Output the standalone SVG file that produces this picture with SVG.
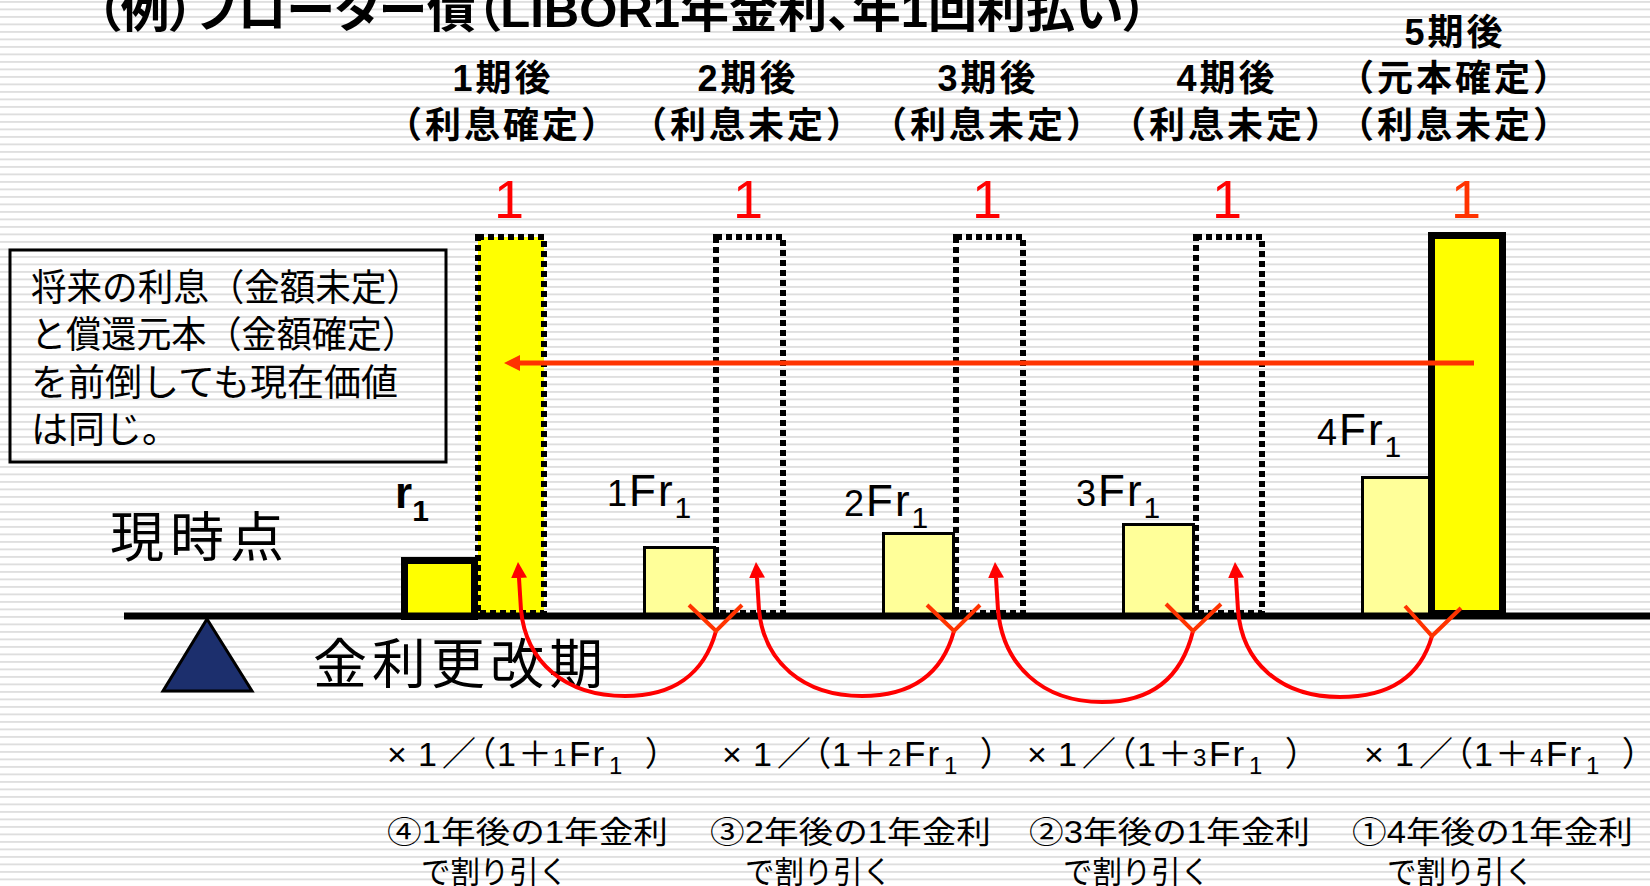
<svg xmlns="http://www.w3.org/2000/svg" width="1650" height="886" viewBox="0 0 1650 886">
<defs>
<pattern id="stripes" patternUnits="userSpaceOnUse" width="16" height="7.5">
<rect x="0" y="0" width="16" height="7.5" fill="#ffffff"/>
<rect x="0" y="1" width="16" height="1.8" fill="#dddddd"/>
</pattern>
<marker id="ahRed" viewBox="0 0 16 16" refX="0" refY="8" markerWidth="16" markerHeight="16" markerUnits="userSpaceOnUse" orient="auto">
<path d="M0,0 L16,8 L0,16 z" fill="#ff0000"/>
</marker>
<marker id="ahOr" viewBox="0 0 16 16" refX="0" refY="8" markerWidth="16" markerHeight="16" markerUnits="userSpaceOnUse" orient="auto">
<path d="M0,0 L16,8 L0,16 z" fill="#ff3300"/>
</marker>
</defs>
<style>
text { font-family: "Liberation Sans", "Noto Sans CJK JP", sans-serif; fill: #000; }
.ttl { font-size: 48px; font-weight: bold; font-feature-settings: "palt"; }
.hd { font-size: 36px; font-weight: bold; text-anchor: middle; letter-spacing: 3px; }
.one { font-size: 54px; fill: #ff0000; text-anchor: middle; }
.box { font-size: 37px; }
.big { font-size: 54px; }
.lbl { font-size: 44px; letter-spacing: 2px; }
.fm { font-size: 34px; font-feature-settings: "palt"; }
.sm { font-size: 24px; }
.fr { font-size: 35px; letter-spacing: 2px; }
.nt { font-size: 31px; }
.dot { fill: none; stroke: #000; stroke-width: 6; stroke-dasharray: 6 4; }
.lite { fill: #ffff99; stroke: #000; stroke-width: 3; }
.arc { fill: none; stroke: #ff0000; stroke-width: 4; marker-end: url(#ahRed); }
.vee { fill: none; stroke: #ff3300; stroke-width: 4; }
</style>
<rect x="0" y="0" width="1650" height="886" fill="url(#stripes)"/>

<g id="title">
<text class="ttl" x="96" y="27" textLength="1052" lengthAdjust="spacingAndGlyphs">（例）フローター債（LIBOR1年金利、年1回利払い）</text>
</g>

<g id="headers">
<text class="hd" x="503" y="91">1期後</text>
<text class="hd" x="503" y="138">（利息確定）</text>
<text class="hd" x="748" y="91">2期後</text>
<text class="hd" x="748" y="138">（利息未定）</text>
<text class="hd" x="988" y="91">3期後</text>
<text class="hd" x="988" y="138">（利息未定）</text>
<text class="hd" x="1227" y="91">4期後</text>
<text class="hd" x="1227" y="138">（利息未定）</text>
<text class="hd" x="1455" y="45">5期後</text>
<text class="hd" x="1455" y="91">（元本確定）</text>
<text class="hd" x="1455" y="138">（利息未定）</text>
</g>

<g id="ones">
<text class="one" x="509" y="218">1</text>
<text class="one" x="748" y="218">1</text>
<text class="one" x="987" y="218">1</text>
<text class="one" x="1227" y="218">1</text>
<text class="one" x="1466" y="218" style="fill:#ff3300">1</text>
</g>

<g id="note">
<rect x="10" y="250" width="436" height="212" fill="none" stroke="#000" stroke-width="3"/>
<text class="box" x="31" y="301" textLength="391" lengthAdjust="spacingAndGlyphs">将来の利息（金額未定）</text>
<text class="box" x="31" y="348" textLength="386" lengthAdjust="spacingAndGlyphs">と償還元本（金額確定）</text>
<text class="box" x="31" y="396">を前倒しても現在価値</text>
<text class="box" x="31" y="443">は同じ。</text>
</g>

<g id="bar-r1">
<rect x="404.5" y="560.5" width="70" height="56" fill="#ffff00" stroke="#000" stroke-width="7"/>
</g>
<g id="bar-f1"><rect class="lite" x="644.5" y="547.5" width="70" height="70"/></g>
<g id="bar-f2"><rect class="lite" x="883.5" y="533.5" width="70" height="84"/></g>
<g id="bar-f3"><rect class="lite" x="1123.5" y="524.5" width="70" height="93"/></g>
<g id="bar-f4"><rect class="lite" x="1362.5" y="477.5" width="68" height="140"/></g>

<g id="bar1"><rect class="dot" x="478" y="237" width="66" height="376" style="fill:#ffff00"/></g>
<g id="bar2"><rect class="dot" x="716" y="237" width="67" height="376"/></g>
<g id="bar3"><rect class="dot" x="956" y="237" width="67" height="376"/></g>
<g id="bar4"><rect class="dot" x="1196" y="237" width="66" height="376"/></g>
<g id="bar5"><rect x="1431.5" y="235.5" width="71" height="378" fill="#ffff00" stroke="#000" stroke-width="7"/></g>

<g id="labels">
<text x="395" y="508" font-size="44" font-weight="bold">r<tspan font-size="30" dy="13">1</tspan></text>
<text class="lbl" x="607" y="506"><tspan font-size="36">1</tspan>Fr<tspan font-size="30" dy="12">1</tspan></text>
<text class="lbl" x="844" y="516"><tspan font-size="36">2</tspan>Fr<tspan font-size="30" dy="12">1</tspan></text>
<text class="lbl" x="1076" y="506"><tspan font-size="36">3</tspan>Fr<tspan font-size="30" dy="12">1</tspan></text>
<text class="lbl" x="1317" y="445"><tspan font-size="36">4</tspan>Fr<tspan font-size="30" dy="12">1</tspan></text>
</g>

<g id="axis">
<line x1="124" y1="616" x2="1650" y2="616" stroke="#000" stroke-width="7"/>
<polygon points="207,619 163,691 252,691" fill="#1c2f6d" stroke="#000" stroke-width="3"/>
<text class="big" x="110" y="557" letter-spacing="6">現時点</text>
<text class="big" x="313" y="684" letter-spacing="5">金利更改期</text>
</g>

<g id="connectors">
<line x1="1474" y1="363" x2="520" y2="363" stroke="#ff3300" stroke-width="5" marker-end="url(#ahOr)"/>
<path class="arc" d="M716,631 C704,675 672,696 625,696 C565,696 526,662 521,610 L519,578"/>
<polyline class="vee" points="689,605 716,631 742,605"/>
<path class="arc" d="M954,631 C942,675 910,696 862,696 C803,696 764,662 759,610 L757,578"/>
<polyline class="vee" points="927,605 954,631 980,605"/>
<path class="arc" d="M1193,631 C1181,680 1149,702 1102,702 C1042,702 1003,665 998,610 L996,578"/>
<polyline class="vee" points="1166,604 1193,631 1221,604"/>
<path class="arc" d="M1432,636 C1420,678 1388,697 1340,697 C1280,697 1242,662 1238,610 L1236,578"/>
<polyline class="vee" points="1405,606 1432,636 1461,608"/>
</g>

<g id="formulas">
<text class="fm" y="766"><tspan x="387">×</tspan><tspan x="418">1</tspan><tspan x="442">／</tspan><tspan x="478">（</tspan><tspan x="497">1</tspan><tspan x="518">＋</tspan><tspan class="sm" x="553">1</tspan><tspan class="fr" x="569">Fr</tspan><tspan class="sm" x="609" dy="8">1</tspan><tspan x="646" dy="-8">）</tspan></text>
<text class="fm" y="766"><tspan x="722">×</tspan><tspan x="753">1</tspan><tspan x="777">／</tspan><tspan x="813">（</tspan><tspan x="832">1</tspan><tspan x="853">＋</tspan><tspan class="sm" x="888">2</tspan><tspan class="fr" x="904">Fr</tspan><tspan class="sm" x="944" dy="8">1</tspan><tspan x="981" dy="-8">）</tspan></text>
<text class="fm" y="766"><tspan x="1027">×</tspan><tspan x="1058">1</tspan><tspan x="1082">／</tspan><tspan x="1118">（</tspan><tspan x="1137">1</tspan><tspan x="1158">＋</tspan><tspan class="sm" x="1193">3</tspan><tspan class="fr" x="1209">Fr</tspan><tspan class="sm" x="1249" dy="8">1</tspan><tspan x="1286" dy="-8">）</tspan></text>
<text class="fm" y="766"><tspan x="1364">×</tspan><tspan x="1395">1</tspan><tspan x="1419">／</tspan><tspan x="1455">（</tspan><tspan x="1474">1</tspan><tspan x="1495">＋</tspan><tspan class="sm" x="1530">4</tspan><tspan class="fr" x="1546">Fr</tspan><tspan class="sm" x="1586" dy="8">1</tspan><tspan x="1623" dy="-8">）</tspan></text>
</g>

<g id="notes-bottom">
<text class="nt" x="387" y="843" textLength="281" lengthAdjust="spacingAndGlyphs">④1年後の1年金利</text>
<text class="nt" x="421" y="883" textLength="147" lengthAdjust="spacingAndGlyphs">で割り引く</text>
<text class="nt" x="710" y="843" textLength="281" lengthAdjust="spacingAndGlyphs">③2年後の1年金利</text>
<text class="nt" x="745" y="883" textLength="147" lengthAdjust="spacingAndGlyphs">で割り引く</text>
<text class="nt" x="1029" y="843" textLength="281" lengthAdjust="spacingAndGlyphs">②3年後の1年金利</text>
<text class="nt" x="1063" y="883" textLength="147" lengthAdjust="spacingAndGlyphs">で割り引く</text>
<text class="nt" x="1352" y="843" textLength="281" lengthAdjust="spacingAndGlyphs">①4年後の1年金利</text>
<text class="nt" x="1387" y="883" textLength="147" lengthAdjust="spacingAndGlyphs">で割り引く</text>
</g>
</svg>
